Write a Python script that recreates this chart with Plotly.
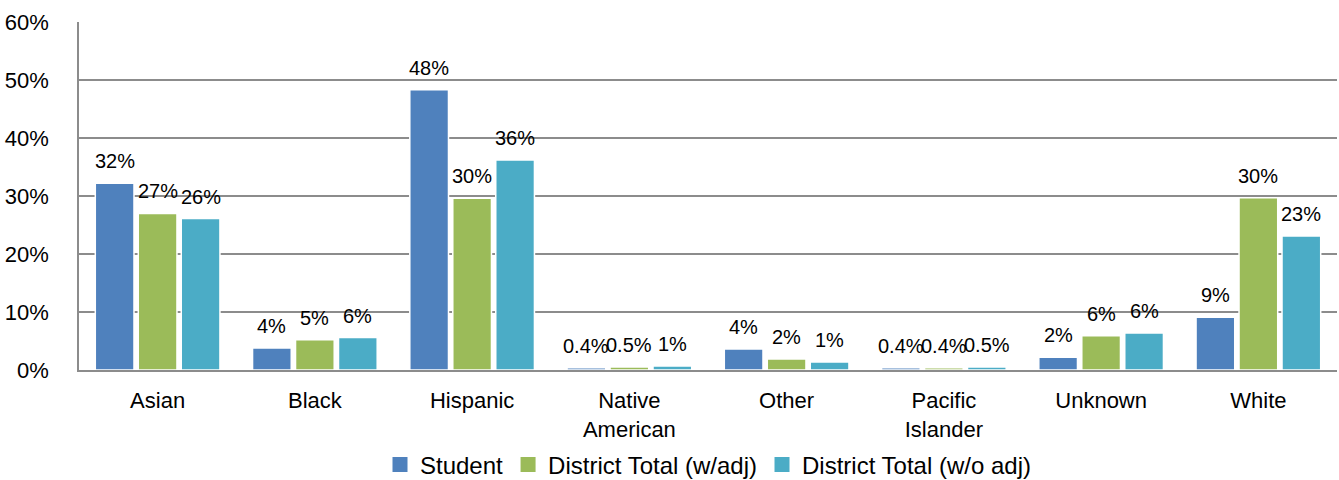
import plotly.graph_objects as go

categories = ["Asian", "Black", "Hispanic", "Native<br>American", "Other",
              "Pacific<br>Islander", "Unknown", "White"]
series_names = ["Student", "District Total (w/adj)", "District Total (w/o adj)"]
student = [32.2, 3.8, 48.3, 0.4, 3.6, 0.4, 2.2, 9.1]
district_adj = [27.0, 5.2, 29.6, 0.5, 1.9, 0.4, 5.9, 29.7]
district_noadj = [26.1, 5.6, 36.2, 0.7, 1.4, 0.5, 6.4, 23.1]
student_labels = ["32%", "4%", "48%", "0.4%", "4%", "0.4%", "2%", "9%"]
adj_labels = ["27%", "5%", "30%", "0.5%", "2%", "0.4%", "6%", "30%"]
noadj_labels = ["26%", "6%", "36%", "1%", "1%", "0.5%", "6%", "23%"]
colors = ["#4F81BD", "#9BBB59", "#4BACC6"]
y_ticks = [0, 10, 20, 30, 40, 50, 60]
y_tick_labels = ["0%", "10%", "20%", "30%", "40%", "50%", "60%"]

FONT = "Liberation Sans"
FS = 22
LFS = 20
LEGFS = 24
W, H = 1339, 480
ML, MR, MT, MB = 79, 2, 22, 110
BARGAP, GROUPGAP = 0.18, 0.1

fig = go.Figure()
all_vals = [student, district_adj, district_noadj]
all_labels = [student_labels, adj_labels, noadj_labels]
for name, vals, col in zip(series_names, all_vals, colors):
    fig.add_trace(go.Bar(
        x=categories, y=vals, name=name, marker_color=col,
        marker_line_color="white", marker_line_width=1.5,
        showlegend=False,
    ))
    fig.add_trace(go.Scatter(
        x=[None], y=[None], mode="markers", name=name,
        marker=dict(symbol="square", size=15, color=col),
        showlegend=True,
    ))

# data labels above each bar
cat_px = (W - ML - MR) / len(categories)
slot_px = cat_px * (1 - BARGAP) / len(series_names)
for i, (vals, labs) in enumerate(zip(all_vals, all_labels)):
    for c, v, t in zip(categories, vals, labs):
        fig.add_annotation(
            x=c, y=v, xref="x", yref="y", text=t, showarrow=False,
            xshift=(i - 1) * slot_px, yanchor="bottom", yshift=9,
            font=dict(family=FONT, size=LFS, color="#000000"),
        )

fig.update_layout(
    width=W, height=H,
    margin=dict(l=ML, r=MR, t=MT, b=MB, autoexpand=False),
    paper_bgcolor="white", plot_bgcolor="white",
    barmode="group", bargap=BARGAP, bargroupgap=GROUPGAP,
    font=dict(family=FONT, size=FS, color="#000000"),
    legend=dict(orientation="h", x=0.5, xanchor="center", y=-0.273, yanchor="middle",
                font=dict(family=FONT, size=LEGFS), traceorder="normal",
                itemwidth=30),
    showlegend=True,
)
fig.update_yaxes(range=[0, 60], tickvals=y_ticks, ticktext=y_tick_labels,
                 showgrid=True, gridcolor="#8c8c8c", gridwidth=1.5,
                 showline=True, linecolor="#8c8c8c", linewidth=1.5,
                 zeroline=False, ticks="", ticklabelstandoff=24,
                 tickfont=dict(family=FONT, size=FS))
fig.update_xaxes(showline=True, linecolor="#8c8c8c", linewidth=2, ticks="",
                 ticklabelstandoff=10, tickfont=dict(family=FONT, size=FS))

fig.write_html("out.html", post_script="document.body.style.margin='0';",
               config={"displayModeBar": False})
